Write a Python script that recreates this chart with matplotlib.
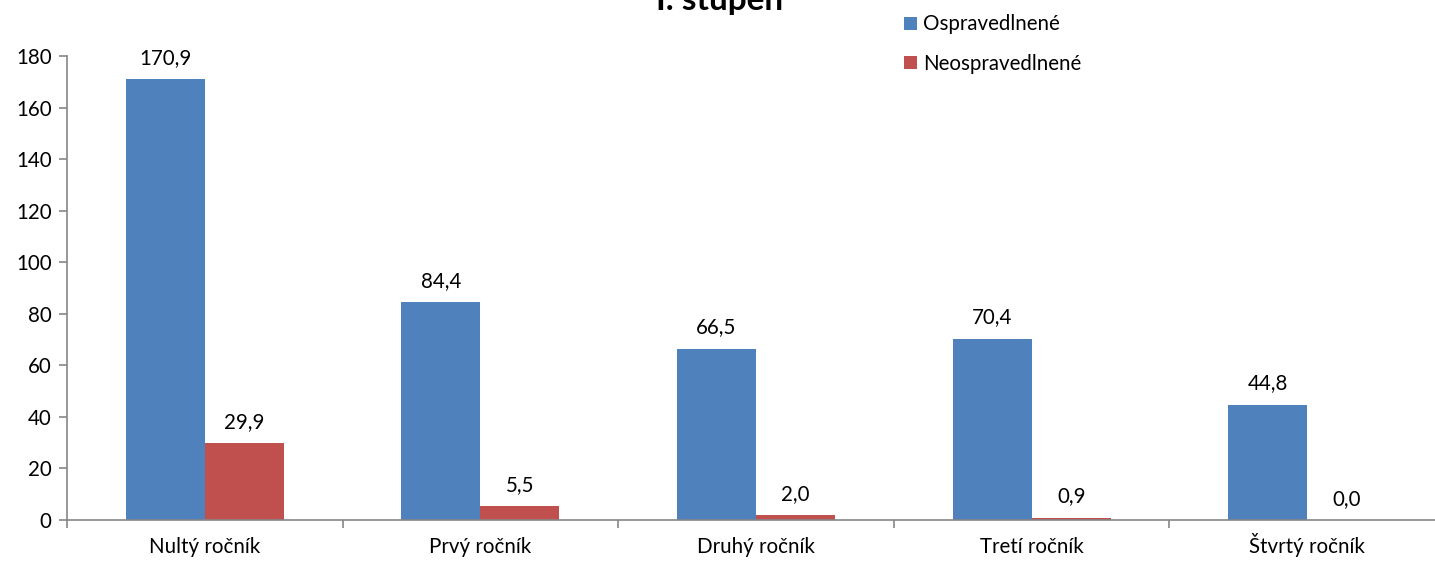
import numpy as np
import matplotlib
matplotlib.use("Agg")
import matplotlib.pyplot as plt

# data
kategorie = ["Nultý ročník", "Prvý ročník", "Druhý ročník", "Tretí ročník", "Štvrtý ročník"]
ospravedlnene = [170.9, 84.4, 66.5, 70.4, 44.8]
neospravedlnene = [29.9, 5.5, 2.0, 0.9, 0.0]

modra = "#4F81BD"
cervena = "#C0504D"
siva = "#868686"

plt.rcParams['font.family'] = ['Lato', 'DejaVu Sans']
fs = 14.8

fig = plt.figure(figsize=(14.35, 5.61), dpi=100)
ax = fig.add_axes([67/1435, 1-520/561, 1378/1435, 464/561])

x = np.arange(len(kategorie))
w = 0.287
b1 = ax.bar(x - w/2, ospravedlnene, w, color=modra, label="Ospravedlnené")
b2 = ax.bar(x + w/2, neospravedlnene, w, color=cervena, label="Neospravedlnené")

# popisky nad stlpcami, s desatinnou ciarkou
for bars in (b1, b2):
    for r in bars:
        v = r.get_height()
        ax.annotate(f"{v:.1f}".replace(".", ","), (r.get_x() + r.get_width()/2, v),
                    xytext=(0, 8), textcoords="offset points",
                    ha="center", va="bottom", fontsize=fs, color="#000000")

ax.set_xlim(-0.5, len(kategorie) - 0.5)
ax.set_ylim(0, 180)
ax.set_yticks(np.arange(0, 181, 20))
ax.set_xticks(x)
ax.set_xticklabels(kategorie)
ax.set_xticks(np.arange(-0.5, len(kategorie)), minor=True)
ax.tick_params(axis="x", which="major", length=0, pad=24, labelsize=fs)
ax.tick_params(axis="x", which="minor", length=6, color=siva, width=1.2)
ax.tick_params(axis="y", length=6, color=siva, width=1.2, labelsize=fs, pad=5)
for t in ax.get_xticklabels():
    t.set_verticalalignment("baseline")

for s in ("top", "right"):
    ax.spines[s].set_visible(False)
for s in ("left", "bottom"):
    ax.spines[s].set_color(siva)
    ax.spines[s].set_linewidth(1.2)

fig.text(720/1435, 1 - 10/561, "I. stupeň", ha="center", va="baseline",
         fontsize=24, fontweight="bold")

ax.legend(loc="upper left", bbox_to_anchor=(890/1435, 1.0), bbox_transform=fig.transFigure,
          frameon=False, fontsize=fs, handlelength=0.6, handleheight=0.6,
          handletextpad=0.3, labelspacing=0.95, borderaxespad=0.3)

fig.savefig("out.png", dpi=100)
